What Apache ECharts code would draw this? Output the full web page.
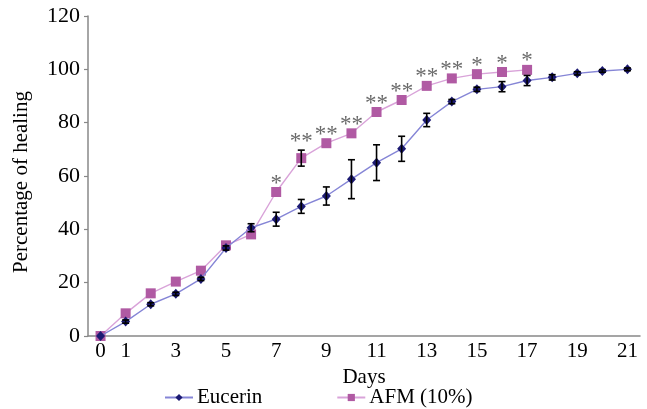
<!DOCTYPE html>
<html>
<head>
<meta charset="utf-8">
<script src="https://cdn.jsdelivr.net/npm/echarts@6/dist/echarts.min.js"></script>
<style>html,body{margin:0;padding:0;background:#fff}#c{width:647px;height:409px}</style>
</head>
<body>
<div id="c"></div>
<script>
var days = ['0','1','2','3','4','5','6','7','8','9','10','11','12','13','14','15','16','17','18','19','20','21'];
var eucerin = [0, 5.4, 11.9, 15.8, 21.4, 33.0, 40.6, 43.8, 48.6, 52.5, 58.8, 65.0, 70.2, 81.0, 87.9, 92.5, 93.5, 95.8, 97.0, 98.5, 99.4, 100];
var eucerinErr = [0, 0.6, 0.6, 0.6, 0.6, 0.8, 1.5, 2.6, 2.6, 3.4, 7.3, 6.7, 4.7, 2.5, 0.8, 0.8, 1.9, 1.9, 1.0, 0.6, 0.5, 0.5];
var afm = [0, 8.5, 16.0, 20.4, 24.5, 34.0, 38.1, 54.0, 66.7, 72.3, 76.0, 84.0, 88.5, 93.8, 96.6, 98.2, 99.0, 99.8];
var afmErr = [0, 0, 0, 0, 0, 0, 0, 0, 3.0, 0, 0, 0, 0, 0, 0, 0, 0, 0];
var stars = ['', '', '', '', '', '', '', '*', '**', '**', '**', '**', '**', '**', '**', '*', '*', '*'];
var yTicks = [0, 20, 40, 60, 80, 100, 120];

var FONT = 'Liberation Serif';
var chart = echarts.init(document.getElementById('c'));

function errSeries(vals, errs, z) {
  var d = [];
  for (var i = 0; i < vals.length; i++) { if (errs[i] > 0) d.push([i, vals[i], errs[i]]); }
  return {
    type: 'custom', z: z, silent: true,
    data: d,
    renderItem: function (params, api) {
      var x = api.value(0), v = api.value(1), e = api.value(2);
      var top = api.coord([x, v + e]);
      var bot = api.coord([x, v - e]);
      var w = 3.5;
      var st = { stroke: '#000', lineWidth: 1.6 };
      return { type: 'group', children: [
        { type: 'line', shape: { x1: top[0], y1: top[1], x2: bot[0], y2: bot[1] }, style: st },
        { type: 'line', shape: { x1: top[0]-w, y1: top[1], x2: top[0]+w, y2: top[1] }, style: st },
        { type: 'line', shape: { x1: bot[0]-w, y1: bot[1], x2: bot[0]+w, y2: bot[1] }, style: st }
      ]};
    }
  };
}

var starData = [];
for (var i = 0; i < afm.length; i++) { if (stars[i]) starData.push({ value: [i, afm[i] + afmErr[i]], name: stars[i] }); }

chart.setOption({
  animation: false,
  textStyle: { fontFamily: FONT },
  grid: { left: 88, top: 16, width: 552, height: 320 },
  xAxis: {
    type: 'category', data: days, boundaryGap: true,
    name: 'Days', nameLocation: 'middle', nameGap: 31,
    nameTextStyle: { fontFamily: FONT, fontSize: 21, color: '#000' },
    axisLine: { lineStyle: { color: '#888', width: 1.5 } },
    axisTick: { alignWithLabel: true, length: 4, lineStyle: { color: '#888', width: 1.2 } },
    axisLabel: {
      interval: 0, margin: 5, fontFamily: FONT, fontSize: 21, color: '#000',
      formatter: function (v) { var n = +v; return (n === 0 || n % 2 === 1) ? v : ''; }
    },
    splitLine: { show: false }
  },
  yAxis: {
    type: 'value', min: yTicks[0], max: yTicks[yTicks.length - 1], interval: 20,
    name: 'Percentage of healing', nameLocation: 'middle', nameRotate: 90, nameGap: 56,
    nameTextStyle: { fontFamily: FONT, fontSize: 21, color: '#000', padding: [0, 12, 0, 0] },
    axisLine: { show: true, lineStyle: { color: '#888', width: 1.5 } },
    axisTick: { show: true, length: 4, lineStyle: { color: '#888', width: 1.2 } },
    axisLabel: { margin: 8, fontFamily: FONT, fontSize: 22, color: '#000' },
    splitLine: { show: false }
  },
  legend: {
    left: 159, top: 382, itemGap: 74, itemWidth: 28, itemHeight: 9,
    textStyle: { fontFamily: FONT, fontSize: 21, color: '#000', padding: [0, 0, 0, -1] },
    data: ['Eucerin', 'AFM (10%)']
  },
  series: [
    {
      name: 'AFM (10%)', type: 'line', data: afm, z: 3,
      symbol: 'rect', symbolSize: 10,
      itemStyle: { color: '#b05aa3' },
      lineStyle: { color: '#d9a3d9', width: 1.4 }
    },
    {
      name: 'Eucerin', type: 'line', data: eucerin, z: 4,
      symbol: 'diamond', symbolSize: [9, 10],
      itemStyle: { color: '#1c1a72' },
      lineStyle: { color: '#8585d6', width: 1.4 }
    },
    errSeries(eucerin, eucerinErr, 5),
    errSeries(afm, afmErr, 5),
    {
      type: 'scatter', data: starData, symbolSize: 0, z: 6, silent: true,
      label: {
        show: true, position: 'top', distance: -3,
        formatter: function (p) { return p.name; },
        fontFamily: FONT, fontSize: 23, color: '#444'
      }
    }
  ]
});
</script>
</body>
</html>
